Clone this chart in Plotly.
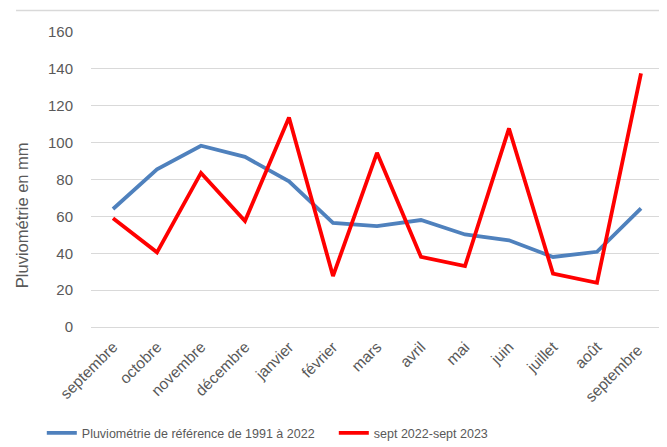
import plotly.graph_objects as go

# monthly rainfall (mm)
mois = ["septembre", "octobre", "novembre", "décembre", "janvier", "février", "mars",
        "avril", "mai", "juin", "juillet", "août", "septembre "]
reference = [64, 85.5, 98.3, 92.3, 79, 56.5, 54.7, 58, 50.2, 47, 38, 40.8, 64.3]
saison_2023 = [59, 40.5, 83.6, 57.5, 113.6, 27.6, 94.5, 38, 33, 107.7, 29, 24, 137.5]

FONT = "Liberation Sans, Arial"
GREY = "#595959"

fig = go.Figure()
fig.add_trace(go.Scatter(x=mois, y=reference, mode="lines",
                         name="Pluviométrie de référence de 1991 à 2022",
                         line=dict(color="#4F81BD", width=3.8)))
fig.add_trace(go.Scatter(x=mois, y=saison_2023, mode="lines",
                         name="sept 2022-sept 2023",
                         line=dict(color="#FF0000", width=3.8)))

# the page body keeps its default 8px margin, so the figure is a bit smaller
fig.update_layout(
    width=659, height=439,
    margin=dict(l=83, r=4, t=23.5, b=120, autoexpand=False),
    paper_bgcolor="white", plot_bgcolor="white",
    font=dict(family=FONT, color=GREY, size=13),
    showlegend=True,
    legend=dict(orientation="h", x=-0.086, xanchor="left", y=-0.36, yanchor="middle",
                entrywidth=247, font=dict(size=12.5, color=GREY)),
)
fig.update_xaxes(type="category", range=[-0.5, 12.5], showgrid=False, showline=False,
                 automargin=False, tickangle=-45, tickfont=dict(size=15.5, color=GREY),
                 ticklabelstandoff=7)
fig.update_yaxes(range=[0, 160], dtick=20, gridcolor="#D9D9D9", gridwidth=1,
                 zeroline=True, zerolinecolor="#D9D9D9", zerolinewidth=1, showline=False,
                 automargin=False, tickfont=dict(size=15, color=GREY), ticklabelstandoff=17)

# y-axis title, partly cut at the left edge as in the original
fig.add_annotation(text="Pluviométrie en mm", xref="paper", yref="paper",
                   x=0, y=0.379, xshift=-80, textangle=-90, showarrow=False,
                   font=dict(size=16.5, color=GREY))
# thin frame line at the top of the chart
fig.add_shape(type="line", xref="paper", yref="paper", x0=-0.131, x1=1.007,
              y0=1.073, y1=1.073, line=dict(color="#D9D9D9", width=1.5))

fig.write_html("out.html")
